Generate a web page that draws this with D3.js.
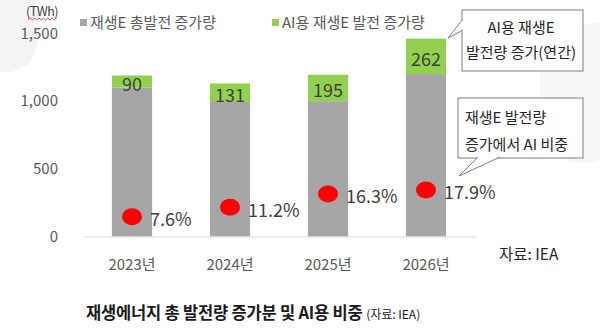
<!DOCTYPE html>
<html>
<head>
<meta charset="utf-8">
<script src="https://cdn.jsdelivr.net/npm/d3@7"></script>
<style>
  body { margin: 0; background: #fff; }
  svg text { font-family: "Noto Sans CJK KR", "Noto Sans", sans-serif; }
</style>
</head>
<body>
<div id="chart"></div>
<script>
// Data
const years = ["2023년", "2024년", "2025년", "2026년"];
const totalGain = [1100, 1000, 1000, 1200];   // 재생E 총발전 증가량 (TWh)
const aiGain = [90, 131, 195, 262];            // AI용 재생E 발전 증가량 (TWh)
const aiShare = [7.6, 11.2, 16.3, 17.9];       // 증가분 중 AI 비중 (%)
const yTicks = [0, 500, 1000, 1500];

const data = years.map((y, i) => ({year: y, total: totalGain[i], ai: aiGain[i], share: aiShare[i]}));

const W = 600, H = 329;
const plot = {left: 83, right: 475, top: 33.5, bottom: 236.5};

const svg = d3.select("#chart")
    .append("svg")
    .attr("width", W)
    .attr("height", H);

// faint background shapes
svg.append("path")
    .attr("d", "M0,0 L38,0 Q44,40 30,62 Q18,74 0,72 Z")
    .attr("fill", "#f4f4f4");
svg.append("path")
    .attr("d", "M540,30 L600,22 L600,160 Q570,170 548,150 L558,110 L540,95 Z")
    .attr("fill", "#f7f7f7");

// Scales
const xScale = d3.scaleBand()
    .domain(years)
    .range([plot.left, plot.right])
    .paddingInner(0.59)
    .paddingOuter(0.295);

const yScale = d3.scaleLinear()
    .domain([0, 1500])
    .range([plot.bottom, plot.top]);

// secondary scale for the share markers
const y2Scale = d3.scaleLinear()
    .domain([0, 78])
    .range([plot.bottom, plot.top]);

// Y axis
const yAxis = svg.append("g")
    .attr("transform", `translate(${plot.left},0)`)
    .call(d3.axisLeft(yScale).tickValues(yTicks).tickFormat(d3.format(",")).tickSize(0).tickPadding(25));
yAxis.select(".domain").remove();
yAxis.selectAll("text")
    .style("font-size", "15px")
    .attr("fill", "#595959");

// Bars: total (gray) with AI part (green) stacked on top
const bars = svg.selectAll(".bar")
    .data(data)
    .enter()
    .append("g")
    .attr("class", "bar");

bars.append("rect")
    .attr("x", d => xScale(d.year))
    .attr("y", d => yScale(d.total))
    .attr("width", xScale.bandwidth())
    .attr("height", d => yScale(0) - yScale(d.total))
    .attr("fill", "#a6a6a6");

bars.append("rect")
    .attr("x", d => xScale(d.year))
    .attr("y", d => yScale(d.total + d.ai))
    .attr("width", xScale.bandwidth())
    .attr("height", d => yScale(d.total) - yScale(d.total + d.ai))
    .attr("fill", "#92d050");

bars.append("text")
    .attr("x", d => xScale(d.year) + xScale.bandwidth() / 2)
    .attr("y", d => (yScale(d.total) + yScale(d.total + d.ai)) / 2 + 3)
    .attr("dy", "0.35em")
    .attr("text-anchor", "middle")
    .style("font-size", "18px")
    .attr("fill", "#404040")
    .text(d => d.ai);

// X axis
const xAxis = svg.append("g")
    .attr("transform", `translate(0,${plot.bottom})`)
    .call(d3.axisBottom(xScale).tickSize(0).tickPadding(23));
xAxis.select(".domain").attr("stroke", "#d9d9d9").attr("stroke-width", 1.2);
xAxis.selectAll("text")
    .style("font-size", "15px")
    .attr("fill", "#595959");

// Share markers
const cx = d => xScale(d.year) + xScale.bandwidth() / 2;
bars.append("ellipse")
    .attr("cx", cx)
    .attr("cy", d => y2Scale(d.share))
    .attr("rx", 10)
    .attr("ry", 8.5)
    .attr("fill", "#ff0000");

bars.append("text")
    .attr("x", d => cx(d) + 18)
    .attr("y", d => y2Scale(d.share) + 3)
    .attr("dy", "0.35em")
    .style("font-size", "18px")
    .attr("fill", "#404040")
    .text(d => d.share.toFixed(1) + "%");

// Unit label
svg.append("text")
    .attr("x", 58)
    .attr("y", 12)
    .attr("dy", "0.35em")
    .attr("text-anchor", "end")
    .style("font-size", "12.5px")
    .style("letter-spacing", "-0.5px")
    .attr("fill", "#404040")
    .text("(TWh)");
svg.append("path")
    .attr("d", d3.range(0, 14).map((i) => `${i === 0 ? "M" : "L"}${28 + i * 2.2},${i % 2 ? 18 : 20}`).join(""))
    .attr("fill", "none")
    .attr("stroke", "#e03030")
    .attr("stroke-width", 0.9);

// Legend
const legendItems = [
    {label: "재생E 총발전 증가량", color: "#a6a6a6", x: 80},
    {label: "AI용 재생E 발전 증가량", color: "#92d050", x: 272}
];
const legend = svg.selectAll(".legend")
    .data(legendItems)
    .enter()
    .append("g")
    .attr("class", "legend")
    .attr("transform", d => `translate(${d.x},23)`);

legend.append("rect")
    .attr("x", 0)
    .attr("y", -4)
    .attr("width", 7)
    .attr("height", 7)
    .attr("fill", d => d.color);

legend.append("text")
    .attr("x", 10)
    .attr("y", 0)
    .attr("dy", "0.35em")
    .style("font-size", "15px")
    .attr("fill", "#595959")
    .text(d => d.label);

// Callouts
function callout(box, tail, lines, anchor) {
    const g = svg.append("g");
    const tailPath = `M${tail[0][0]},${tail[0][1]}L${tail[1][0]},${tail[1][1]}L${tail[2][0]},${tail[2][1]}`;
    g.append("rect")
        .attr("x", box.x)
        .attr("y", box.y)
        .attr("width", box.w)
        .attr("height", box.h)
        .attr("fill", "#fff")
        .attr("stroke", "#7f7f7f")
        .attr("stroke-width", 1);
    // white tail body hides the box edge under its base
    g.append("path")
        .attr("d", tailPath)
        .attr("fill", "#fff")
        .attr("stroke", "none");
    g.append("path")
        .attr("d", tailPath)
        .attr("fill", "none")
        .attr("stroke", "#7f7f7f")
        .attr("stroke-width", 1);
    lines.forEach(l => {
        g.append("text")
            .attr("x", l.x)
            .attr("y", l.y)
            .attr("dy", "0.35em")
            .attr("text-anchor", anchor)
            .style("font-size", "15px")
            .attr("fill", "#262626")
            .text(l.t);
    });
}

callout({x: 462, y: 10, w: 121, h: 61},
    [[463, 19], [448, 38], [463, 30]],
    [{t: "AI용 재생E", x: 521, y: 28}, {t: "발전량 증가(연간)", x: 521, y: 53}], "middle");

callout({x: 458, y: 98, w: 125, h: 60},
    [[478, 157], [459, 176], [500, 157]],
    [{t: "재생E 발전량", x: 465, y: 118}, {t: "증가에서 AI 비중", x: 465, y: 145}], "start");

// Source note
svg.append("text")
    .attr("x", 499)
    .attr("y", 255)
    .attr("dy", "0.35em")
    .style("font-size", "15.5px")
    .attr("fill", "#262626")
    .text("자료: IEA");

// Title
const title = svg.append("text")
    .attr("x", 86)
    .attr("y", 313)
    .attr("dy", "0.35em")
    .attr("fill", "#1a1a1a");
title.append("tspan")
    .style("font-size", "16.5px")
    .style("font-weight", "700")
    .style("letter-spacing", "-0.2px")
    .text("재생에너지 총 발전량 증가분 및 AI용 비중 ");
title.append("tspan")
    .style("font-size", "12px")
    .text("(자료: IEA)");
</script>
</body>
</html>
